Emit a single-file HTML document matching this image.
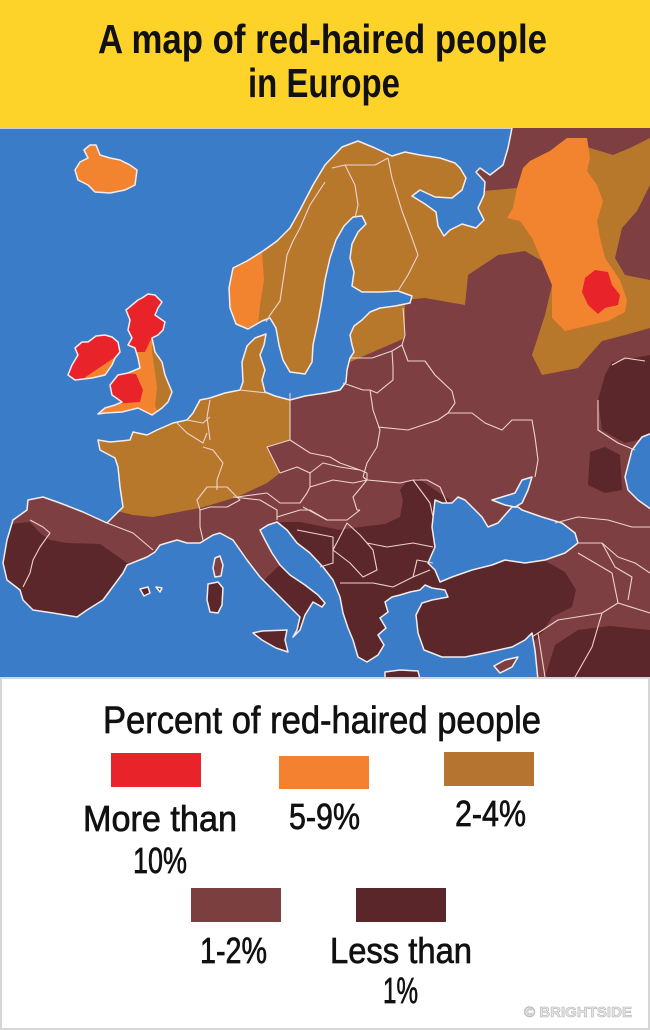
<!DOCTYPE html>
<html>
<head>
<meta charset="utf-8">
<style>
html,body{margin:0;padding:0;background:#fff;}
svg{display:block;}
</style>
</head>
<body>
<svg width="650" height="1030" viewBox="0 0 650 1030" xmlns="http://www.w3.org/2000/svg">
<defs>
<clipPath id="mapclip"><rect x="0" y="128" width="650" height="549"/></clipPath>
<clipPath id="gbclip"><polygon points="142,298 148,294 155,295 162,302 158,308 155,315 165,322 163,330 158,335 152,338 155,352 162,362 165,375 172,392 168,402 162,408 152,415 138,408 122,412 105,413 98,414 105,408 115,405 122,402 112,395 110,385 118,375 128,373 140,368 138,358 135,348 128,345 132,338 128,330 130,320 126,310 132,305 138,300"/></clipPath>
<clipPath id="ieclip"><polygon points="88,342 96,336 105,335 112,337 118,342 120,352 115,358 112,365 105,375 92,378 75,380 68,375 72,365 78,355 75,348 82,342"/></clipPath>
</defs>

<!-- header -->
<rect x="0" y="0" width="650" height="128" fill="#fdd32a"/>
<g font-family="'Liberation Sans', sans-serif" font-weight="bold" font-size="41" fill="#111">
<text x="98" y="53" textLength="449" lengthAdjust="spacingAndGlyphs">A map of red-haired people</text>
<text x="248" y="97" textLength="152" lengthAdjust="spacingAndGlyphs">in Europe</text>
</g>

<!-- map -->
<g clip-path="url(#mapclip)">
<rect x="0" y="128" width="650" height="549" fill="#7d3f41"/>

<!-- tan north -->
<polygon fill="#b8782c" points="215,128 650,128 650,328 625,335 602,341 578,368 542,375 532,355 545,315 552,285 542,261 525,251 498,255 468,275 465,305 425,298 405,300 405,338 350,362 330,368 300,385 290,392 240,392 215,300"/>
<!-- brown patches in north -->
<polygon fill="#7d3f41" points="470,128 650,128 650,138 630,148 613,155 590,148 567,138 550,151 530,161 523,168 517,188 483,191 470,191"/>
<polygon fill="#7d3f41" points="650,185 637,211 622,228 615,258 625,275 650,280"/>
<!-- orange Russia -->
<polygon fill="#f3842f" points="567,138 587,138 590,158 587,171 597,185 603,201 597,221 600,238 605,258 620,280 627,300 625,312 608,321 565,331 552,318 552,285 542,261 532,238 520,221 507,218 513,208 517,188 523,168 530,161 550,151"/>
<!-- red blob -->
<polygon fill="#e8242a" points="585,278 595,270 608,272 612,285 620,295 618,305 605,308 598,314 588,305 582,292"/>
<!-- Norway orange -->
<polygon fill="#f3842f" points="215,255 262,252 264,280 260,305 258,325 215,335"/>

<!-- west tan -->
<polygon fill="#b8782c" points="85,430 200,393 240,388 290,390 290,440 267,447 280,473 267,483 237,497 217,503 200,508 173,513 153,517 133,515 113,510 95,480"/>

<!-- dark regions -->
<g fill="#5b272a">
<polygon points="0,525 30,522 40,533 50,540 67,543 100,544 113,553 127,563 145,580 145,640 0,640"/>
<polygon points="262,582 285,560 320,560 330,640 250,640"/>
<polygon points="280,522 300,522 340,530 360,527 385,524 400,517 403,500 400,490 407,481 418,478 435,490 450,500 450,600 420,610 420,677 330,677 300,560"/>
<polygon points="410,560 470,560 540,558 565,572 576,590 572,607 552,617 542,633 530,645 420,670"/>
<polygon points="545,677 555,645 578,630 610,626 650,630 650,677"/>
<polygon points="612,362 650,355 650,437 625,443 602,430 598,400 605,375"/>
<polygon points="590,452 605,447 620,455 622,490 605,493 588,485"/>
</g>

<!-- seas -->
<g fill="#3b7cc9" stroke="#f4ecec" stroke-width="1.5" stroke-linejoin="round">
<polygon points="0,128 512,128 508,148 503,165 490,175 480,168 476,172 485,182 484,195 478,208 484,220 476,228 462,224 450,230 444,236 438,226 436,212 425,204 412,196 420,190 435,197 452,198 462,190 466,178 460,168 455,163 440,158 420,155 405,152 392,156 375,148 358,141 342,147 325,165 313,185 300,210 290,228 277,241 263,251 247,261 233,268 229,288 230,308 236,324 248,329 262,321 270,318 276,328 279,345 283,360 290,372 305,374 312,362 313,345 318,322 322,300 325,280 330,258 336,240 344,226 353,217 362,216 366,224 358,232 352,244 350,258 354,272 352,286 362,292 380,292 398,291 412,296 410,303 395,306 380,308 370,312 362,320 354,326 350,335 352,345 354,352 350,358 347,370 346,382 340,390 325,393 305,396 290,400 275,396 265,392 262,380 265,370 260,355 264,345 266,334 255,338 247,346 242,362 243,382 240,390 225,393 210,398 200,400 193,413 187,420 173,423 157,430 147,435 133,432 130,440 110,442 98,440 100,450 115,458 118,467 120,487 123,507 113,517 107,523 83,512 60,503 43,497 28,500 27,510 13,520 7,540 3,563 7,580 20,590 23,600 33,610 53,613 77,617 87,610 103,600 123,573 127,565 147,557 155,552 160,545 177,540 187,543 200,543 213,535 220,533 233,540 247,560 260,577 273,590 290,607 300,617 297,630 293,637 300,630 305,615 313,602 322,607 325,603 318,595 305,585 290,575 280,565 272,553 265,540 260,530 268,525 277,522 287,530 297,543 310,553 323,567 333,580 340,597 343,613 348,628 353,640 358,657 367,662 378,655 384,645 378,635 386,628 380,618 388,612 385,602 392,597 400,595 410,592 420,590 425,585 432,588 445,590 448,597 432,600 422,603 416,615 418,633 424,650 442,657 465,657 485,653 512,647 525,640 532,633 535,650 538,680 -2,680 -2,128"/>
<polygon points="435,500 442,503 452,503 458,497 465,500 472,507 482,517 488,527 498,523 512,507 518,507 522,510 542,517 562,523 575,533 578,543 565,553 545,560 525,563 505,560 492,565 472,570 452,577 440,582 435,570 428,563 435,547 432,527"/>
<polygon points="492,500 502,497 515,493 522,480 532,477 528,490 522,503 515,507 505,505"/>
<polygon points="652,433 642,437 632,450 625,477 628,490 638,500 652,510"/>
</g>

<!-- islands -->
<g stroke="#f4ecec" stroke-width="1.5" stroke-linejoin="round">
<polygon fill="#f3842f" points="75,170 80,162 88,158 84,150 90,145 96,145 100,155 110,158 120,160 130,165 137,170 135,185 125,190 110,193 95,192 88,185 78,180"/>
<polygon fill="#7d3f41" points="215,558 220,556 223,565 221,576 215,577 213,568"/>
<polygon fill="#5b272a" points="208,584 218,582 223,588 222,605 218,613 210,612 207,600"/>
<polygon fill="#5b272a" points="253,633 262,631 287,630 285,640 288,652 276,648 262,640"/>
<polygon fill="#5b272a" points="140,589 148,587 150,593 144,596"/>
<polygon fill="#5b272a" points="156,587 162,588 160,592"/>
<polygon fill="#5b272a" points="385,672 400,670 418,671 420,679 385,679"/>
<polygon fill="#7d3f41" points="494,666 505,660 518,657 512,667 500,673"/>
</g>

<!-- Great Britain -->
<g clip-path="url(#gbclip)">
<rect x="90" y="285" width="90" height="135" fill="#f3842f"/>
<polygon fill="#e8242a" points="100,280 180,280 180,336 152,337 145,352 100,352"/>
<polygon fill="#e8242a" points="100,372 136,374 143,390 140,402 100,405"/>
<polygon fill="#b8782c" points="152,345 180,345 180,420 160,420 155,405 157,388 155,372 152,352"/>
</g>
<polygon fill="none" stroke="#f4ecec" stroke-width="1.5" stroke-linejoin="round" points="142,298 148,294 155,295 162,302 158,308 155,315 165,322 163,330 158,335 152,338 155,352 162,362 165,375 172,392 168,402 162,408 152,415 138,408 122,412 105,413 98,414 105,408 115,405 122,402 112,395 110,385 118,375 128,373 140,368 138,358 135,348 128,345 132,338 128,330 130,320 126,310 132,305 138,300"/>

<!-- Ireland -->
<g clip-path="url(#ieclip)">
<rect x="60" y="330" width="70" height="60" fill="#e8242a"/>
<polygon fill="#f3842f" points="78,382 117,356 125,360 125,392 70,392"/>
</g>
<polygon fill="none" stroke="#f4ecec" stroke-width="1.5" stroke-linejoin="round" points="88,342 96,336 105,335 112,337 118,342 120,352 115,358 112,365 105,375 92,378 75,380 68,375 72,365 78,355 75,348 82,342"/>

<!-- borders -->
<g fill="none" stroke="#efd2cc" stroke-width="1.1" stroke-linejoin="round">
<polyline points="325,182 310,205 300,228 293,241 287,255 283,281 280,301 270,315 266,322"/>
<polyline points="332,168 345,165 375,165 388,158"/>
<polyline points="345,165 355,185 358,205 355,218"/>
<polyline points="388,158 392,178 402,211 412,238 418,255 408,275 398,291"/>
<polyline points="403,308 405,335 402,345 408,361 425,361 435,375 452,391 455,403 448,413"/>
<polyline points="350,358 372,358 392,351 402,345"/>
<polyline points="392,351 393,367 393,380 377,393 370,390"/>
<polyline points="343,383 363,390 370,390"/>
<polyline points="370,390 373,410 380,430 377,447 367,463 363,477"/>
<polyline points="378,427 408,430 438,420 448,413"/>
<polyline points="290,393 290,440"/>
<polyline points="290,440 310,453 330,457 340,463 360,470 367,473"/>
<polyline points="290,440 267,447 280,473"/>
<polyline points="280,473 297,467 310,473 323,463 340,467 360,470"/>
<polyline points="237,497 267,493 280,503 300,503 307,493 310,487 310,473"/>
<polyline points="310,487 333,480 353,483 367,480 367,473"/>
<polyline points="303,507 327,520 347,520 360,510"/>
<polyline points="367,480 353,497 357,510 360,510"/>
<polyline points="363,477 367,480 400,483 413,480 427,480 440,487 447,503"/>
<polyline points="413,480 430,503 433,517"/>
<polyline points="347,523 360,535 367,543 387,547 413,543 433,547"/>
<polyline points="347,523 333,550 350,563 363,577 377,570 373,550 367,543"/>
<polyline points="297,530 333,537 333,563 320,567"/>
<polyline points="340,583 347,583 373,583 393,587 413,577 430,570"/>
<polyline points="413,577 417,560 433,563"/>
<polyline points="277,517 300,510 310,510 327,520"/>
<polyline points="233,497 260,500 277,510 277,520"/>
<polyline points="240,390 267,393"/>
<polyline points="177,423 187,433 203,443 207,433"/>
<polyline points="187,420 203,423 210,417"/>
<polyline points="210,400 207,417 210,440"/>
<polyline points="203,447 213,450 223,463 217,480 217,490"/>
<polygon points="197,500 207,487 227,487 233,493 240,500 227,507 210,507 200,510"/>
<polyline points="200,510 200,527 203,540"/>
<polyline points="107,523 133,533 153,550"/>
<polyline points="30,520 43,527 50,533 40,547 33,560 30,573 23,587"/>
<polyline points="448,413 472,413 485,423 502,430 512,420 532,420 535,437 538,460 535,477"/>
<polyline points="598,400 598,430 618,443 635,450"/>
<polyline points="612,365 625,358 645,361"/>
<polyline points="555,523 578,517 608,520 632,527 650,527"/>
<polyline points="578,543 602,543 618,557 635,563 650,573"/>
<polyline points="602,543 615,567 632,577 628,600"/>
<polyline points="532,637 558,620 602,613 618,603 650,613"/>
<polyline points="578,553 612,573 618,603"/>
<polyline points="602,613 592,647 575,677"/>
<polyline points="538,633 545,677"/>
</g>
</g>

<!-- legend area -->
<rect x="1" y="678" width="648" height="351" fill="#ffffff" stroke="#d6d6d6" stroke-width="2"/>

<g font-family="'Liberation Sans', sans-serif" fill="#111" stroke="#111" stroke-width="0.7">
<text x="103" y="733" font-size="38" textLength="438" lengthAdjust="spacingAndGlyphs">Percent of red-haired people</text>
<text x="83" y="831" font-size="36" textLength="154" lengthAdjust="spacingAndGlyphs">More than</text>
<text x="133" y="873" font-size="36" textLength="54" lengthAdjust="spacingAndGlyphs">10%</text>
<text x="289" y="829" font-size="36" textLength="71" lengthAdjust="spacingAndGlyphs">5-9%</text>
<text x="455" y="826" font-size="36" textLength="71" lengthAdjust="spacingAndGlyphs">2-4%</text>
<text x="200" y="963" font-size="36" textLength="67" lengthAdjust="spacingAndGlyphs">1-2%</text>
<text x="330" y="963" font-size="36" textLength="142" lengthAdjust="spacingAndGlyphs">Less than</text>
<text x="383" y="1003" font-size="36" textLength="35" lengthAdjust="spacingAndGlyphs">1%</text>
</g>

<rect x="111" y="753" width="90" height="34" fill="#e8232a"/>
<rect x="279" y="756" width="90" height="33" fill="#f38130"/>
<rect x="444" y="752" width="90" height="34" fill="#b57530"/>
<rect x="191" y="888" width="90" height="34" fill="#7c3f40"/>
<rect x="356" y="888" width="90" height="34" fill="#5b2629"/>

<text x="524" y="1017" font-family="'Liberation Sans', sans-serif" font-weight="bold" font-size="15" fill="#e6e6e6" stroke="#b4b4b4" stroke-width="0.6" textLength="108" lengthAdjust="spacingAndGlyphs">© BRIGHTSIDE</text>
</svg>
</body>
</html>
